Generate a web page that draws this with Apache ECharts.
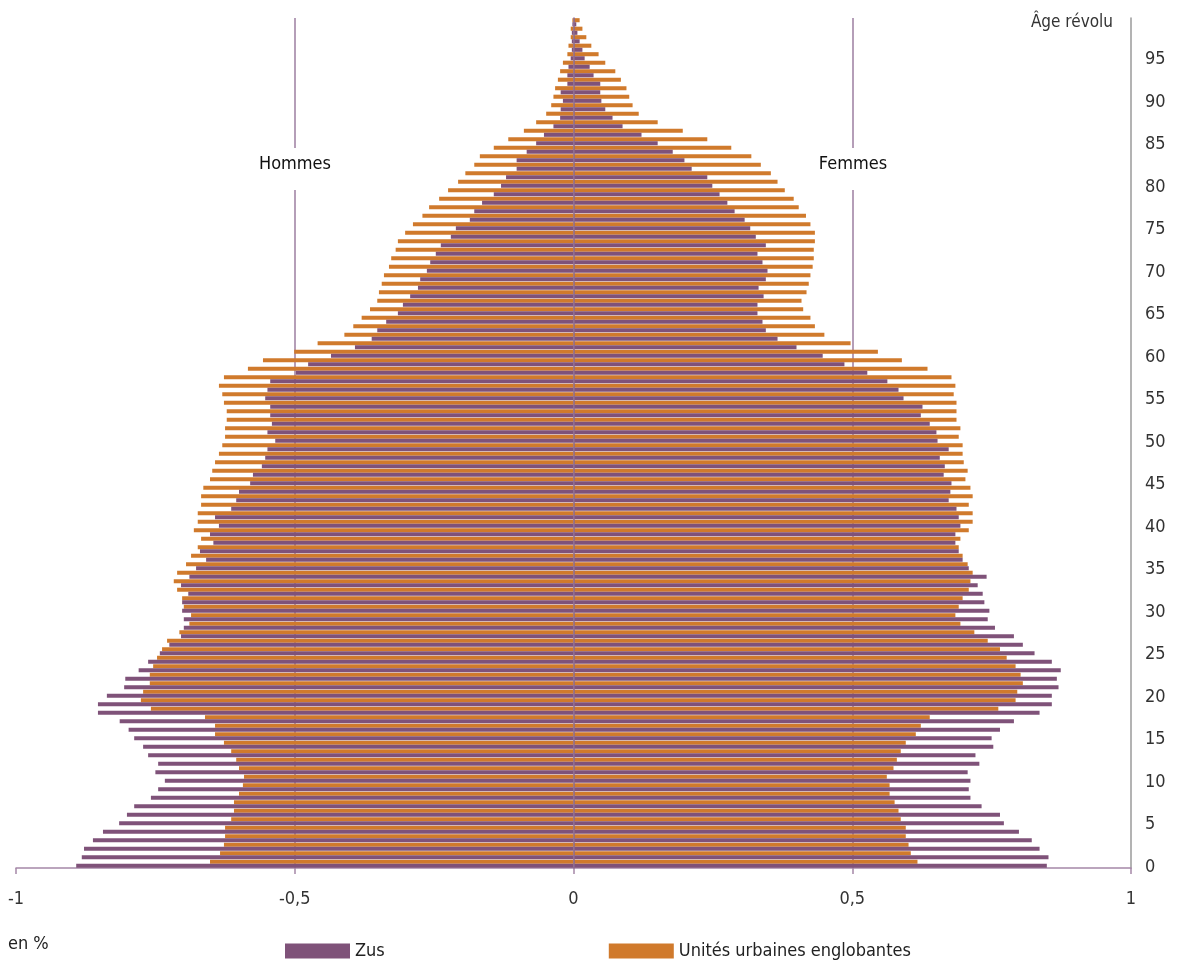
<!DOCTYPE html>
<html>
<head>
<meta charset="utf-8">
<title>Pyramide des âges - Zus</title>
<script src="https://cdn.jsdelivr.net/npm/echarts@6/dist/echarts.min.js"></script>
<style>
  html, body { margin: 0; padding: 0; background: #fff; }
  #pyramide { width: 1177px; height: 963px; }
</style>
</head>
<body>
<div id="pyramide"></div>
<script>
'use strict';

//------------données (en %)

var ages = [];
for (var a = 0; a <= 99; a++) { ages.push(String(a)); }

var xTicks = [-1, -0.5, 0, 0.5, 1];

var zusHommes = [
  -0.892, -0.882, -0.878, -0.862, -0.844, -0.815, -0.801, -0.788, -0.758, -0.745,
  -0.733, -0.750, -0.745, -0.763, -0.772, -0.788, -0.798, -0.814, -0.853, -0.853,
  -0.837, -0.806, -0.804, -0.780, -0.763, -0.742, -0.725, -0.704, -0.699, -0.699,
  -0.702, -0.702, -0.691, -0.704, -0.689, -0.677, -0.659, -0.670, -0.646, -0.652,
  -0.636, -0.643, -0.614, -0.605, -0.600, -0.580, -0.575, -0.559, -0.553, -0.549,
  -0.535, -0.549, -0.541, -0.544, -0.544, -0.553, -0.549, -0.544, -0.498, -0.476,
  -0.435, -0.392, -0.362, -0.352, -0.336, -0.315, -0.306, -0.293, -0.279, -0.275,
  -0.263, -0.257, -0.247, -0.238, -0.220, -0.211, -0.186, -0.178, -0.164, -0.143,
  -0.130, -0.121, -0.102, -0.102, -0.084, -0.067, -0.053, -0.036, -0.024, -0.023,
  -0.019, -0.023, -0.011, -0.011, -0.009, -0.005, -0.003, -0.003, -0.003, -0.002
];

var uuHommes = [
  -0.652, -0.634, -0.627, -0.625, -0.625, -0.614, -0.609, -0.609, -0.600, -0.593,
  -0.591, -0.600, -0.605, -0.614, -0.627, -0.643, -0.643, -0.661, -0.758, -0.776,
  -0.772, -0.760, -0.760, -0.754, -0.747, -0.738, -0.729, -0.707, -0.689, -0.686,
  -0.699, -0.702, -0.711, -0.717, -0.711, -0.695, -0.686, -0.674, -0.668, -0.681,
  -0.674, -0.674, -0.668, -0.668, -0.664, -0.652, -0.648, -0.643, -0.636, -0.630,
  -0.625, -0.625, -0.622, -0.622, -0.627, -0.630, -0.636, -0.627, -0.584, -0.557,
  -0.501, -0.459, -0.411, -0.395, -0.380, -0.365, -0.352, -0.349, -0.344, -0.340,
  -0.331, -0.327, -0.319, -0.315, -0.302, -0.288, -0.271, -0.259, -0.241, -0.225,
  -0.207, -0.194, -0.178, -0.168, -0.143, -0.117, -0.089, -0.067, -0.049, -0.040,
  -0.036, -0.033, -0.028, -0.024, -0.019, -0.011, -0.009, -0.005, -0.005, -0.002
];

var zusFemmes = [
  0.849, 0.852, 0.836, 0.822, 0.799, 0.772, 0.765, 0.732, 0.712, 0.709,
  0.712, 0.707, 0.728, 0.721, 0.753, 0.750, 0.765, 0.790, 0.836, 0.858,
  0.858, 0.870, 0.867, 0.874, 0.858, 0.827, 0.806, 0.790, 0.756, 0.743,
  0.746, 0.737, 0.734, 0.725, 0.741, 0.709, 0.698, 0.691, 0.685, 0.685,
  0.694, 0.691, 0.687, 0.673, 0.676, 0.678, 0.664, 0.666, 0.657, 0.673,
  0.653, 0.651, 0.639, 0.623, 0.626, 0.592, 0.583, 0.563, 0.527, 0.486,
  0.447, 0.400, 0.366, 0.345, 0.339, 0.330, 0.330, 0.341, 0.332, 0.345,
  0.348, 0.339, 0.330, 0.345, 0.327, 0.317, 0.307, 0.289, 0.276, 0.262,
  0.249, 0.240, 0.212, 0.199, 0.178, 0.151, 0.122, 0.088, 0.070, 0.057,
  0.050, 0.048, 0.048, 0.036, 0.029, 0.020, 0.016, 0.011, 0.007, 0.005
];

var uuFemmes = [
  0.617, 0.605, 0.601, 0.596, 0.596, 0.587, 0.583, 0.576, 0.567, 0.567,
  0.562, 0.574, 0.580, 0.587, 0.596, 0.614, 0.623, 0.639, 0.762, 0.793,
  0.796, 0.806, 0.802, 0.793, 0.777, 0.765, 0.743, 0.719, 0.694, 0.685,
  0.691, 0.698, 0.709, 0.712, 0.716, 0.707, 0.698, 0.691, 0.694, 0.709,
  0.716, 0.716, 0.709, 0.716, 0.712, 0.703, 0.707, 0.700, 0.698, 0.698,
  0.691, 0.694, 0.687, 0.687, 0.687, 0.682, 0.685, 0.678, 0.635, 0.589,
  0.546, 0.497, 0.450, 0.433, 0.425, 0.412, 0.409, 0.418, 0.422, 0.425,
  0.429, 0.431, 0.431, 0.433, 0.433, 0.425, 0.417, 0.404, 0.395, 0.379,
  0.366, 0.354, 0.336, 0.319, 0.283, 0.240, 0.196, 0.151, 0.117, 0.106,
  0.100, 0.095, 0.085, 0.075, 0.057, 0.045, 0.032, 0.023, 0.016, 0.011
];

var nomZus = 'Zus';
var nomUU = 'Unités urbaines englobantes';

//------------styles

var violet = '#7F5279';
var orange = '#D07A2C';
var lilas = '#A588A8';
var police = "'Liberation Sans Narrow', 'DejaVu Sans Condensed', sans-serif";

//------------graphique

var chart = echarts.init(document.getElementById('pyramide'));

function barre(nom, data, pile, couleur) {
  return {
    name: nom,
    type: 'bar',
    stack: pile,
    data: data,
    yAxisIndex: 0,
    barGap: '0%',
    barCategoryGap: '4%',
    itemStyle: { color: couleur },
    emphasis: { disabled: true },
    silent: true
  };
}

var option = {
  animation: false,
  textStyle: { fontFamily: police },
  grid: { left: 16, right: 46, top: 18, bottom: 95 },
  legend: {
    data: [nomZus, nomUU],
    left: 280,
    top: 937,
    icon: 'rect',
    itemWidth: 65,
    itemHeight: 15,
    itemGap: 224,
    selectedMode: false,
    textStyle: { fontFamily: police, fontSize: 18, color: '#222' }
  },
  xAxis: {
    type: 'value',
    min: xTicks[0],
    max: xTicks[xTicks.length - 1],
    interval: 0.5,
    axisLine: { show: true, lineStyle: { color: lilas, width: 1.5 } },
    axisTick: { show: true, length: 6, lineStyle: { color: lilas, width: 1.5 } },
    axisLabel: {
      margin: 22,
      fontSize: 18,
      color: '#333',
      fontFamily: police,
      formatter: function (v) { return String(v).replace('.', ','); }
    },
    splitLine: {
      show: true,
      lineStyle: { color: ['transparent', '#9C7EA0', 'transparent', '#9C7EA0', 'transparent'], width: 1.5 }
    }
  },
  yAxis: [
    {
      type: 'category',
      data: ages,
      position: 'right',
      axisLine: { onZero: false, lineStyle: { color: '#9a9a9a', width: 1.5 } },
      axisTick: { show: false },
      axisLabel: {
        interval: 4, margin: 14, fontSize: 18, color: '#333', fontFamily: police,
        verticalAlign: 'top', lineHeight: 7
      },
      splitLine: { show: false }
    },
    {
      type: 'category',
      data: ages,
      position: 'left',
      z: 10,
      axisLine: { onZero: true, lineStyle: { color: '#8C6A8E', width: 1.5 } },
      axisTick: { show: false },
      axisLabel: { show: false },
      splitLine: { show: false }
    }
  ],
  graphic: [
    { type: 'rect', shape: { x: 284, y: 148, width: 22, height: 42 }, style: { fill: '#fff' }, z: 50 },
    { type: 'rect', shape: { x: 841, y: 148, width: 22, height: 42 }, style: { fill: '#fff' }, z: 50 },
    { type: 'text', x: 295, y: 164, z: 60,
      style: { text: 'Hommes', fill: '#111', font: '18px ' + police, textAlign: 'center', textVerticalAlign: 'middle' } },
    { type: 'text', x: 853, y: 164, z: 60,
      style: { text: 'Femmes', fill: '#111', font: '18px ' + police, textAlign: 'center', textVerticalAlign: 'middle' } },
    { type: 'text', x: 1113, y: 23, z: 60,
      style: { text: 'Âge révolu', fill: '#333', font: '17px ' + police, textAlign: 'right', textVerticalAlign: 'middle' } },
    { type: 'text', x: 8, y: 944, z: 60,
      style: { text: 'en %', fill: '#222', font: '18px ' + police, textAlign: 'left', textVerticalAlign: 'middle' } }
  ],
  series: [
    barre(nomUU, uuHommes, 'uu', orange),
    barre(nomUU, uuFemmes, 'uu', orange),
    barre(nomZus, zusHommes, 'zus', violet),
    barre(nomZus, zusFemmes, 'zus', violet)
  ]
};

chart.setOption(option);
chart.resize();
</script>
</body>
</html>
